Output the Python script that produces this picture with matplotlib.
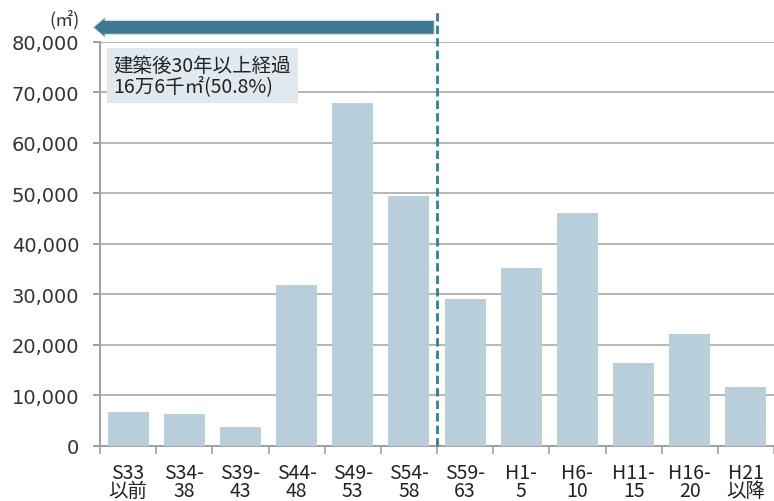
import matplotlib
matplotlib.use("Agg")
import matplotlib.pyplot as plt

categories = ["S33\n以前", "S34-\n38", "S39-\n43", "S44-\n48", "S49-\n53", "S54-\n58",
              "S59-\n63", "H1-\n5", "H6-\n10", "H11-\n15", "H16-\n20", "H21\n以降"]
values = [6550, 6150, 3570, 31750, 67900, 49400, 28950, 35100, 46000, 16300, 22200, 11500]
yticks = [0, 10000, 20000, 30000, 40000, 50000, 60000, 70000, 80000]
ytick_labels = ["0", "10,000", "20,000", "30,000", "40,000", "50,000", "60,000", "70,000", "80,000"]
unit_label = "(㎡)"
box_text = "建築後30年以上経過\n16万6千㎡(50.8%)"
split_index = 6  # boundary between S54-58 and S59-63

plt.rcParams['font.family'] = ['Noto Sans CJK JP', 'DejaVu Sans']

fig = plt.figure(figsize=(7.74, 5.02), dpi=100)
ax = fig.add_axes([100/774, 1-446.5/502, 674/774, (446.5-43)/502])

x = list(range(len(categories)))
ax.bar(x, values, width=0.73, color="#b8cfdb", zorder=3)

ax.set_xlim(-0.5, len(categories)-0.5)
ax.set_ylim(0, 80000)
ax.set_yticks(yticks)
ax.set_yticklabels(ytick_labels, family="DejaVu Sans", fontsize=14, color="#333333")
ax.yaxis.grid(True, color="#b4b4b4", linewidth=1.4, zorder=1)
ax.set_axisbelow(True)

ax.set_xticks(x)
ax.set_xticklabels(categories, fontsize=14, color="#222222", linespacing=0.8)
ax.set_xticks([i - 0.5 for i in range(len(categories)+1)], minor=True)
ax.tick_params(axis="x", which="major", length=0, pad=12)
ax.tick_params(axis="x", which="minor", length=6, color="#a0a0a0", width=1.2)
ax.tick_params(axis="y", length=5, color="#a0a0a0", width=1.4, pad=10)

for s in ["top", "right"]:
    ax.spines[s].set_visible(False)
ax.spines["left"].set_color("#a0a0a0")
ax.spines["left"].set_linewidth(1.4)
ax.spines["bottom"].set_color("#a0a0a0")
ax.spines["bottom"].set_linewidth(1.4)

# dashed divider
ax.axvline(split_index - 0.5, ymin=0, ymax=1.08, color="#3d7a91", linewidth=2,
           linestyle=(0, (3, 1.5)), clip_on=False, zorder=5)

# arrow
ax.annotate("", xy=(-0.62, 82900), xytext=(split_index - 0.55, 82900),
            xycoords="data", textcoords="data",
            arrowprops=dict(arrowstyle="simple,head_length=0.85,head_width=1.45,tail_width=1.0",
                            facecolor="#3d7a91", edgecolor="#d0dfe6", linewidth=0.8,
                            shrinkA=0, shrinkB=0),
            annotation_clip=False, zorder=6)

# text box
ax.text(-0.26, 77500, box_text, fontsize=14, color="#222222", va="top", ha="left",
        linespacing=1.0,
        bbox=dict(boxstyle="square,pad=0.35", facecolor="#e1e9f0", edgecolor="none"),
        zorder=7)

fig.text(80/774, 1-20/502, unit_label, fontsize=13, color="#333333", ha="right", va="center")

fig.savefig("out.png", dpi=100)
